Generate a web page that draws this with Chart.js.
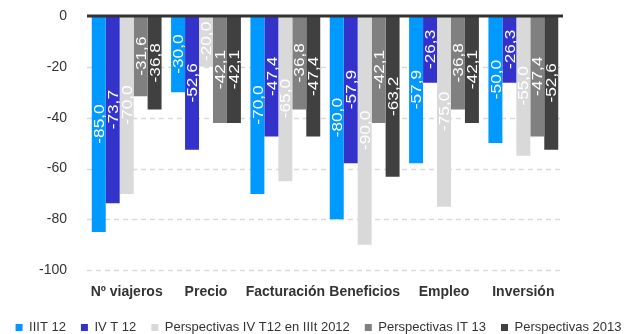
<!DOCTYPE html>
<html>
<head>
<meta charset="utf-8">
<script src="https://cdn.jsdelivr.net/npm/chart.js@4"></script>
<style>
  html, body { margin: 0; padding: 0; background: #fff; }
  #wrap { width: 637px; height: 334px; }
</style>
</head>
<body>
<div id="wrap"><canvas id="chart"></canvas></div>
<script>
const categories = ['Nº viajeros', 'Precio', 'Facturación', 'Beneficios', 'Empleo', 'Inversión']
const seriesNames = ['IIIT 12', 'IV T 12', 'Perspectivas IV T12 en IIIt 2012', 'Perspectivas IT 13', 'Perspectivas 2013']
const iiiT12 = [-85.0, -30.0, -70.0, -80.0, -57.9, -50.0]
const ivT12 = [-73.7, -52.6, -47.4, -57.9, -26.3, -26.3]
const perspIvT12 = [-70.0, -20.0, -65.0, -90.0, -75.0, -55.0]
const perspIt13 = [-31.6, -42.1, -36.8, -42.1, -36.8, -47.4]
const persp2013 = [-36.8, -42.1, -47.4, -63.2, -42.1, -52.6]
const yTicks = [0, -20, -40, -60, -80, -100]
const colors = ['#0099FF', '#3333CC', '#D9D9D9', '#808080', '#404040']

const allSeries = [iiiT12, ivT12, perspIvT12, perspIt13, persp2013]
const FONT = '"Liberation Sans", Arial, sans-serif'

// dashed grid behind the bars
const dashedGrid = {
    id: 'dashedGrid',
    beforeDatasetsDraw (chart) {
        const ctx = chart.ctx
        const y = chart.scales.y
        const area = chart.chartArea
        ctx.save()
        ctx.strokeStyle = '#d9d9d9'
        ctx.lineWidth = 1.5
        ctx.setLineDash([5, 4])
        yTicks.forEach(v => {
            if (v === 0) return
            const py = Math.round(y.getPixelForValue(v)) + 0.5
            ctx.beginPath()
            ctx.moveTo(area.left, py)
            ctx.lineTo(area.right, py)
            ctx.stroke()
        })
        ctx.restore()
    }
}

// labels rotated inside each bar, plus the dark zero line
const barLabels = {
    id: 'barLabels',
    afterDatasetsDraw (chart) {
        const ctx = chart.ctx
        const y = chart.scales.y
        const area = chart.chartArea
        const y0 = y.getPixelForValue(0)
        ctx.save()
        ctx.strokeStyle = '#333'
        ctx.lineWidth = 3
        ctx.beginPath()
        ctx.moveTo(area.left, y0)
        ctx.lineTo(area.right, y0)
        ctx.stroke()

        ctx.fillStyle = '#fff'
        ctx.font = '15px ' + FONT
        ctx.textAlign = 'center'
        ctx.textBaseline = 'middle'
        chart.data.datasets.forEach((ds, i) => {
            chart.getDatasetMeta(i).data.forEach((bar, j) => {
                const txt = ds.data[j].toFixed(1).replace('.', ',')
                const cy = (bar.y + bar.base) / 2
                ctx.save()
                ctx.translate(bar.x, cy)
                ctx.rotate(-Math.PI / 2)
                ctx.scale(1.15, 1)
                ctx.fillText(txt, 0, 1)
                ctx.restore()
            })
        })
        ctx.restore()
    }
}

// legend sits lower, closer to the bottom edge
const tightLegend = {
    id: 'tightLegend',
    afterInit (chart) {
        const legend = chart.legend
        const fit = legend.fit
        legend.fit = function () {
            fit.call(this)
            this.height -= 10
        }
    }
}

new Chart(document.getElementById('chart'), {
    type: 'bar',
    data: {
        labels: categories,
        datasets: allSeries.map((d, i) => ({
            label: seriesNames[i],
            data: d,
            backgroundColor: colors[i],
            borderWidth: 0,
            barPercentage: 1,
            categoryPercentage: 0.88
        }))
    },
    options: {
        responsive: true,
        maintainAspectRatio: false,
        animation: false,
        layout: { padding: { top: 0, right: 0, left: 0, bottom: 0 } },
        scales: {
            x: {
                grid: { display: false },
                border: { display: false },
                afterFit: axis => { axis.height -= 1 },
                ticks: {
                    color: '#333',
                    font: { size: 14, weight: 'bold', family: FONT },
                    maxRotation: 0,
                    autoSkip: false,
                    padding: 6
                }
            },
            y: {
                min: -100,
                max: 0,
                afterBuildTicks: axis => { axis.ticks = yTicks.map(v => ({ value: v })) },
                afterFit: axis => { axis.width = 87; axis.paddingTop = 16 },
                ticks: {
                    color: '#333',
                    font: { size: 14, family: FONT },
                    padding: 12
                },
                grid: { display: false },
                border: { display: false }
            },
            // empty axis on the right, only to keep the space there
            yRight: {
                position: 'right',
                min: -100,
                max: 0,
                afterFit: axis => { axis.width = 74; axis.paddingTop = 0 },
                ticks: { display: false },
                grid: { display: false },
                border: { display: false }
            }
        },
        plugins: {
            legend: {
                position: 'bottom',
                labels: {
                    boxWidth: 7,
                    boxHeight: 7,
                    padding: 15,
                    color: '#333',
                    font: { size: 13, family: FONT }
                }
            },
            tooltip: { enabled: false }
        }
    },
    plugins: [dashedGrid, barLabels, tightLegend]
})
</script>
</body>
</html>
